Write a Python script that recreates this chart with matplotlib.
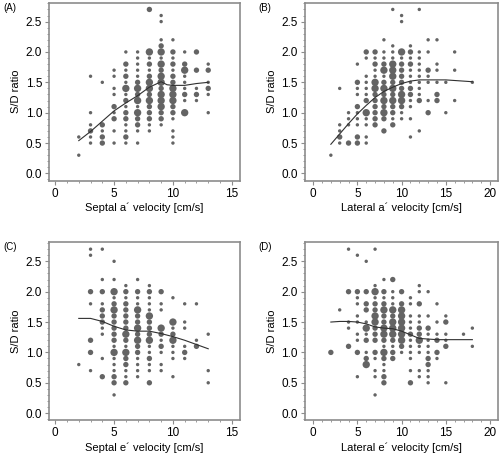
import matplotlib
matplotlib.use('Agg')
import matplotlib.pyplot as plt
from matplotlib.ticker import MultipleLocator

plt.rcParams['font.family'] = ['Liberation Sans', 'DejaVu Sans']

# size class per point: 1 = single, 2 = few, 3 = many
# panel A: septal a' velocity
a_cols = {
    2: [(0.6, 1), (0.3, 1)],
    3: [(1.6, 1), (1.0, 1), (0.8, 1), (0.7, 2), (0.6, 1), (0.5, 1)],
    4: [(1.5, 1), (0.8, 2), (0.7, 1), (0.6, 2), (0.5, 2)],
    5: [(1.7, 1), (1.6, 1), (1.4, 1), (1.3, 1), (1.1, 2), (1.0, 1), (0.9, 2), (0.7, 1), (0.5, 1)],
    6: [(2.0, 1), (1.8, 2), (1.7, 1), (1.6, 2), (1.5, 1), (1.4, 3), (1.3, 1), (1.2, 2), (1.1, 1),
        (1.0, 2), (0.9, 2), (0.8, 1), (0.7, 1), (0.6, 2), (0.5, 1)],
    7: [(2.0, 1), (1.9, 1), (1.8, 1), (1.7, 1), (1.6, 1), (1.5, 2), (1.4, 3), (1.3, 2), (1.2, 3),
        (1.1, 1), (1.0, 3), (0.9, 2), (0.8, 2), (0.7, 1), (0.5, 1)],
    8: [(2.7, 2), (2.0, 3), (1.9, 1), (1.8, 2), (1.7, 1), (1.6, 2), (1.5, 3), (1.4, 3), (1.3, 2),
        (1.2, 3), (1.1, 2), (1.0, 2), (0.9, 2), (0.8, 1), (0.7, 1)],
    9: [(2.6, 1), (2.5, 1), (2.2, 1), (2.1, 2), (2.0, 3), (1.9, 1), (1.8, 3), (1.7, 2), (1.6, 3),
        (1.5, 3), (1.4, 2), (1.3, 3), (1.2, 3), (1.1, 3), (1.0, 2), (0.9, 2), (0.8, 1)],
    10: [(2.2, 1), (2.0, 2), (1.9, 1), (1.8, 2), (1.7, 1), (1.6, 2), (1.5, 2), (1.4, 3), (1.3, 3),
         (1.2, 3), (1.1, 2), (1.0, 2), (0.9, 1), (0.7, 1), (0.6, 1), (0.5, 1)],
    11: [(2.0, 1), (1.8, 2), (1.7, 3), (1.6, 1), (1.5, 1), (1.4, 1), (1.3, 2), (1.2, 1), (1.0, 3)],
    12: [(2.0, 2), (1.7, 2), (1.4, 1), (1.3, 2), (1.2, 1)],
    13: [(1.8, 1), (1.7, 2), (1.5, 1), (1.4, 2), (1.3, 1), (1.0, 1)],
}
a_fit_x = [2, 3, 4, 5, 6, 7, 8, 9, 9.5, 10, 11, 12, 13]
a_fit_y = [0.54, 0.69, 0.86, 1.03, 1.16, 1.28, 1.42, 1.51, 1.46, 1.45, 1.45, 1.48, 1.50]

# panel B: lateral a' velocity
b_cols = {
    2: [(0.3, 1)],
    3: [(1.4, 1), (0.8, 1), (0.7, 1), (0.6, 2), (0.5, 1)],
    4: [(1.0, 1), (0.9, 1), (0.8, 1), (0.5, 2)],
    5: [(1.8, 1), (1.5, 2), (1.4, 1), (1.3, 1), (1.1, 2), (1.0, 1), (0.9, 1), (0.8, 1), (0.6, 2), (0.5, 2)],
    6: [(2.0, 2), (1.9, 1), (1.6, 1), (1.5, 1), (1.4, 1), (1.3, 1), (1.2, 2), (1.0, 3), (0.9, 1),
        (0.8, 1), (0.6, 1), (0.5, 1)],
    7: [(2.0, 2), (1.9, 1), (1.8, 2), (1.7, 1), (1.6, 1), (1.5, 3), (1.4, 3), (1.3, 2), (1.2, 2),
        (1.1, 2), (1.0, 2), (0.9, 2), (0.8, 2)],
    8: [(2.2, 1), (2.0, 1), (1.9, 1), (1.8, 2), (1.7, 3), (1.6, 1), (1.5, 2), (1.4, 3), (1.3, 2),
        (1.2, 3), (1.1, 2), (1.0, 3), (0.9, 2), (0.7, 2)],
    9: [(2.7, 1), (2.1, 1), (2.0, 1), (1.9, 1), (1.8, 3), (1.7, 3), (1.6, 3), (1.5, 2), (1.4, 3),
        (1.3, 2), (1.2, 3), (1.1, 2), (1.0, 2), (0.9, 1), (0.8, 2)],
    10: [(2.6, 1), (2.5, 1), (2.0, 3), (1.9, 1), (1.8, 2), (1.7, 2), (1.6, 2), (1.5, 2), (1.4, 2),
         (1.3, 3), (1.2, 3), (1.1, 2), (1.0, 1), (0.9, 1)],
    11: [(2.1, 1), (2.0, 2), (1.9, 1), (1.8, 2), (1.7, 1), (1.6, 1), (1.5, 1), (1.4, 2), (1.3, 2),
         (1.2, 1), (1.1, 1), (0.9, 1), (0.6, 1)],
    12: [(2.7, 1), (2.0, 1), (1.9, 1), (1.8, 1), (1.7, 1), (1.6, 1), (1.5, 1), (1.4, 1), (1.3, 1),
         (1.2, 2), (0.7, 1)],
    13: [(2.2, 1), (2.0, 1), (1.7, 2), (1.6, 1), (1.5, 1), (1.2, 1), (1.0, 2)],
    14: [(2.2, 1), (1.8, 1), (1.7, 1), (1.5, 1), (1.3, 2), (1.2, 2)],
    15: [(1.5, 1), (1.0, 1)],
    16: [(2.0, 1), (1.7, 1), (1.2, 1)],
    18: [(1.5, 1)],
}
b_fit_x = [2, 3, 4, 5, 6, 7, 8, 9, 10, 11, 12, 13, 14, 15, 16, 18]
b_fit_y = [0.48, 0.65, 0.82, 0.98, 1.12, 1.25, 1.35, 1.42, 1.48, 1.52, 1.54, 1.54, 1.54, 1.54, 1.53, 1.51]

# panel C: septal e' velocity
c_cols = {
    2: [(0.8, 1)],
    3: [(2.7, 1), (2.6, 1), (2.0, 2), (1.8, 1), (1.2, 2), (1.0, 2), (0.7, 1)],
    4: [(2.7, 1), (2.2, 1), (2.0, 2), (1.8, 1), (1.7, 2), (1.6, 2), (1.5, 2), (1.4, 1), (1.3, 1),
        (0.9, 1), (0.6, 2)],
    5: [(2.5, 1), (2.2, 1), (2.0, 3), (1.9, 1), (1.8, 2), (1.7, 3), (1.6, 2), (1.5, 2), (1.4, 2),
        (1.3, 2), (1.2, 2), (1.1, 1), (1.0, 3), (0.9, 1), (0.8, 1), (0.7, 1), (0.6, 2), (0.5, 2), (0.3, 1)],
    6: [(2.1, 1), (2.0, 2), (1.9, 1), (1.8, 2), (1.7, 2), (1.6, 2), (1.5, 2), (1.4, 2), (1.3, 3),
        (1.2, 2), (1.1, 1), (1.0, 3), (0.9, 2), (0.8, 2), (0.7, 1), (0.6, 1), (0.5, 2)],
    7: [(2.2, 1), (2.0, 2), (1.9, 1), (1.8, 1), (1.7, 3), (1.6, 2), (1.5, 2), (1.4, 3), (1.3, 2),
        (1.2, 3), (1.1, 2), (1.0, 2), (0.9, 1), (0.8, 1), (0.7, 1), (0.6, 1)],
    8: [(2.1, 1), (2.0, 2), (1.9, 1), (1.8, 1), (1.7, 1), (1.6, 3), (1.5, 2), (1.4, 2), (1.3, 2),
        (1.2, 3), (1.1, 1), (1.0, 1), (0.9, 2), (0.8, 1), (0.7, 1), (0.5, 2)],
    9: [(2.0, 2), (1.8, 1), (1.7, 1), (1.4, 3), (1.3, 2), (1.2, 1), (1.1, 2), (1.0, 1), (0.8, 1), (0.7, 1)],
    10: [(1.9, 1), (1.5, 3), (1.4, 1), (1.3, 2), (1.2, 3), (1.1, 1), (1.0, 1), (0.9, 1), (0.6, 1)],
    11: [(1.8, 1), (1.5, 1), (1.4, 1), (1.1, 1), (1.0, 2), (0.9, 1)],
    12: [(1.8, 1), (1.2, 1), (1.1, 2)],
    13: [(1.3, 1), (0.7, 1), (0.5, 1)],
}
c_fit_x = [2, 3, 4, 5, 6, 7, 8, 9, 10, 11, 12, 13]
c_fit_y = [1.56, 1.56, 1.51, 1.43, 1.37, 1.35, 1.35, 1.31, 1.26, 1.20, 1.13, 1.06]

# panel D: lateral e' velocity
d_cols = {
    2: [(1.0, 2)],
    3: [(1.7, 1)],
    4: [(2.7, 1), (2.0, 2), (1.5, 1), (1.4, 1), (1.1, 2)],
    5: [(2.6, 1), (2.0, 2), (1.9, 1), (1.8, 1), (1.6, 1), (1.5, 1), (1.3, 1), (1.2, 1), (1.0, 2), (0.6, 1)],
    6: [(2.5, 1), (2.0, 2), (1.8, 2), (1.7, 2), (1.5, 1), (1.4, 3), (1.3, 1), (1.2, 2), (1.0, 1),
        (0.9, 2), (0.8, 3)],
    7: [(2.7, 1), (2.1, 1), (2.0, 3), (1.9, 1), (1.8, 2), (1.7, 2), (1.6, 3), (1.5, 3), (1.4, 2),
        (1.3, 2), (1.2, 2), (1.0, 2), (0.9, 1), (0.7, 1), (0.6, 1), (0.3, 1)],
    8: [(2.2, 1), (2.0, 2), (1.9, 1), (1.8, 2), (1.7, 3), (1.6, 2), (1.5, 2), (1.4, 3), (1.3, 3),
        (1.2, 2), (1.1, 1), (1.0, 3), (0.9, 2), (0.8, 1), (0.7, 1), (0.6, 2), (0.5, 2)],
    9: [(2.2, 2), (2.0, 1), (1.9, 1), (1.8, 1), (1.7, 3), (1.6, 2), (1.5, 3), (1.4, 3), (1.3, 3),
        (1.2, 2), (1.1, 1), (1.0, 2), (0.9, 2)],
    10: [(2.0, 2), (1.8, 2), (1.7, 3), (1.6, 3), (1.5, 3), (1.4, 3), (1.3, 3), (1.2, 3), (1.1, 2), (1.0, 1)],
    11: [(1.9, 1), (1.8, 1), (1.6, 1), (1.5, 1), (1.4, 1), (1.3, 2), (1.2, 1), (1.1, 1), (1.0, 1),
         (0.9, 1), (0.7, 1), (0.5, 2)],
    12: [(2.1, 1), (2.0, 1), (1.8, 2), (1.6, 1), (1.5, 1), (1.4, 2), (1.3, 2), (1.2, 3), (1.1, 1),
         (1.0, 1), (0.7, 1), (0.6, 1)],
    13: [(2.0, 1), (1.6, 1), (1.4, 2), (1.3, 1), (1.2, 1), (1.1, 1), (1.0, 1), (0.9, 2), (0.8, 2),
         (0.7, 1), (0.6, 1), (0.5, 1)],
    14: [(1.8, 1), (1.5, 1), (1.3, 1), (1.2, 2), (1.0, 2), (0.9, 1)],
    15: [(1.6, 1), (1.5, 2), (1.3, 1), (1.2, 1), (1.1, 2), (0.5, 1)],
    17: [(1.3, 1)],
    18: [(1.4, 1), (1.1, 1)],
}
d_fit_x = [2, 3, 4, 5, 6, 7, 8, 9, 10, 11, 12, 13, 14, 15, 16, 17, 18]
d_fit_y = [1.50, 1.51, 1.51, 1.50, 1.47, 1.42, 1.40, 1.39, 1.35, 1.29, 1.23, 1.22, 1.21, 1.21, 1.21, 1.21, 1.21]

panels = [
    ('(A)', a_cols, a_fit_x, a_fit_y, 'Septal a\u00b4 velocity [cm/s]', (-0.53, 15.7), 5),
    ('(B)', b_cols, b_fit_x, b_fit_y, 'Lateral a\u00b4 velocity [cm/s]', (-0.98, 20.9), 5),
    ('(C)', c_cols, c_fit_x, c_fit_y, 'Septal e\u00b4 velocity [cm/s]', (-0.53, 15.7), 5),
    ('(D)', d_cols, d_fit_x, d_fit_y, 'Lateral e\u00b4 velocity [cm/s]', (-0.98, 20.9), 5),
]

size_map = {1: 6, 2: 15, 3: 28}
dot_color = '#646464'
spine_color = '#8c8c8c'

fig = plt.figure(figsize=(5, 4.61), dpi=100)
rects = [
    [0.098, 0.608, 0.382, 0.386],
    [0.609, 0.608, 0.387, 0.386],
    [0.098, 0.088, 0.382, 0.386],
    [0.609, 0.088, 0.387, 0.386],
]

for rect, (tag, cols, fx, fy, xlabel, xlim, step) in zip(rects, panels):
    ax = fig.add_axes(rect)
    xs, ys, ss = [], [], []
    for x, pts in cols.items():
        for y, n in pts:
            xs.append(x)
            ys.append(y)
            ss.append(size_map[n])
    ax.scatter(xs, ys, s=ss, color=dot_color, linewidths=0, zorder=2)
    ax.plot(fx, fy, color='#303030', linewidth=0.8, zorder=3)

    ax.set_xlim(*xlim)
    ax.set_ylim(-0.12, 2.81)
    ax.xaxis.set_major_locator(MultipleLocator(step))
    ax.xaxis.set_minor_locator(MultipleLocator(1))
    ax.yaxis.set_major_locator(MultipleLocator(0.5))
    ax.yaxis.set_minor_locator(MultipleLocator(0.1))
    ax.yaxis.set_major_formatter(plt.FormatStrFormatter('%.1f'))
    for sp in ax.spines.values():
        sp.set_color(spine_color)
        sp.set_linewidth(1.2)
    ax.tick_params(which='major', direction='out', length=3, width=0.8, color=spine_color,
                   labelsize=8.5, pad=2)
    ax.tick_params(which='minor', direction='out', length=1.5, width=0.6, color=spine_color)
    ax.set_xlabel(xlabel, fontsize=8, labelpad=2)
    ax.set_ylabel('S/D ratio', fontsize=8, labelpad=3)
    ax.text(-0.24, 1.0, tag, transform=ax.transAxes, fontsize=7, va='top', ha='left')

fig.savefig('out.png', dpi=100)
